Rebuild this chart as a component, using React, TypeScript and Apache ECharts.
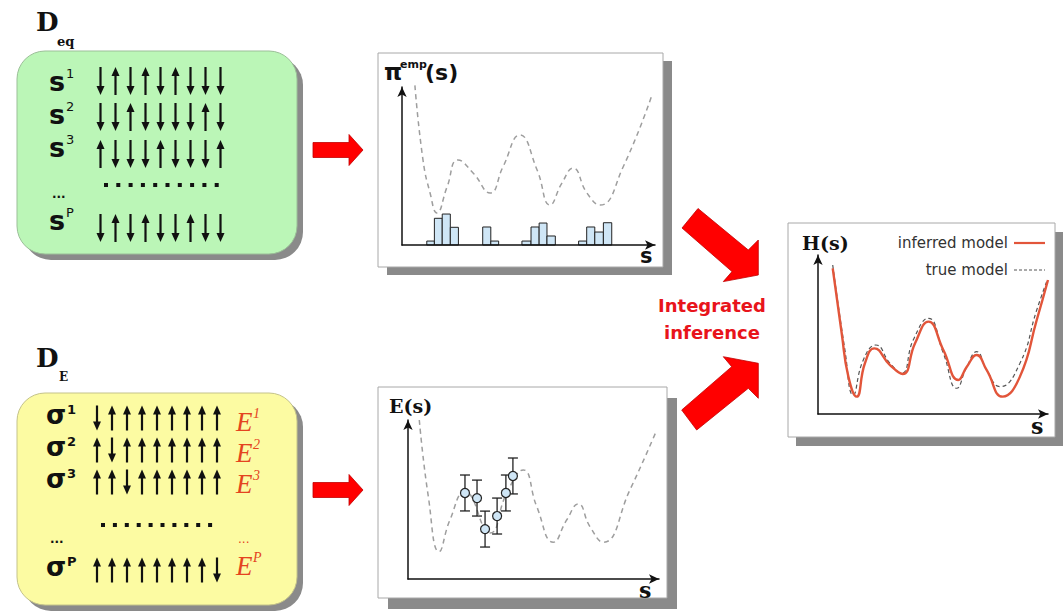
import React, { useEffect, useRef } from 'react';
import * as echarts from 'echarts';

// ---- data ----
const eqRows = ['dudududdd', 'dduddddud', 'udddudddu', 'dududdudd'];
const eqSup = ['1', '2', '3', 'P'];
const eRows = ['duuuuuuuu', 'uduuuuuuu', 'uuduuuuuu', 'uuuuuuuud'];
const eSup = ['1', '2', '3', 'P'];

// pi^emp(s) panel: dashed true curve [s, value]
const piCurve = [[5.1, 101], [8.3, 53.8], [11.1, 32.9], [13.8, 20.3], [17.8, 36.7], [22.1, 53.8], [28.1, 45.6], [34.8, 32.9], [39.9, 49.4], [46.6, 69.6], [53.4, 47.5], [58.5, 25.3], [63.2, 39.2], [67.6, 48.7], [73.1, 32.9], [78.3, 25.3], [87.4, 49.4], [98.8, 94.9]];
// histogram bins [start, end, count]
const piBins = [[9.8, 12.8, 2.5], [12.8, 15.9, 16.9], [15.9, 19.1, 19.6], [19.1, 22.3, 11.2], [31.9, 35.1, 11.4], [35.1, 38.2, 2.5], [47.4, 51.0, 2.5], [51.0, 54.2, 11.4], [54.2, 57.3, 13.9], [57.3, 60.6, 5.7], [69.8, 73.0, 2.5], [73.0, 76.2, 11.4], [76.2, 79.6, 8.2], [79.6, 82.9, 14.1]];

// E(s) panel
const eCurve = [[4.5, 100], [8.1, 51.8], [12.4, 17.2], [16.7, 37.1], [22.7, 54.9], [32.7, 28.9], [39.3, 53.9], [45.9, 68.6], [51.3, 45.5], [57.9, 23.1], [63.2, 37.1], [67.8, 47.2], [72.5, 32.9], [77.8, 23.1], [88.4, 56.0], [99.1, 93.7]];
const ePoints = [[22.7, 54.1], [27.5, 50.9], [30.7, 31.4], [35.5, 39.6], [39.0, 54.1], [41.8, 64.8]];
const eErr = [11.3, 11.3, 11.3, 11.3, 11.3, 11.3];

// H(s) panel
const hInferred = [[6.4, 91.6], [10.3, 50.8], [13.2, 23.5], [16.8, 10.9], [20.4, 31.9], [24.5, 41.3], [31.3, 30.8], [36.8, 25.2], [42.2, 44.5], [48.0, 58.1], [54.5, 40.3], [61.0, 21.4], [64.7, 29.7], [69.0, 37.1], [73.3, 27.7], [80.3, 10.9], [87.8, 23.5], [95.1, 59.1], [100, 84.3]];
const hTrue = [[6.4, 93.7], [11.7, 40.3], [15.3, 11.9], [19.7, 34.0], [25.2, 43.4], [31.3, 31.9], [36.4, 25.6], [41.4, 46.5], [48.0, 60.2], [54.5, 38.2], [60.3, 16.2], [64.7, 29.7], [69.0, 39.2], [73.3, 27.7], [79.1, 17.2], [87.8, 31.9], [95.1, 65.4], [99.4, 83.2]];
const legendNames = ['inferred model', 'true model'];

const SANS = '"DejaVu Sans", "Liberation Sans", sans-serif';
const SERIF = '"DejaVu Serif", "Liberation Serif", serif';
const TIMES = '"Liberation Serif", "DejaVu Serif", serif';
const RED_LINE = '#e2553a';

function txt(x: number, y: number, text: string, font: string, fill = '#111', align = 'left', z = 5) {
  return {
    type: 'text', x, y, z,
    style: { text, font, fill, textAlign: align, textVerticalAlign: 'middle' },
  };
}

function spin(out: any[], x: number, yc: number, up: boolean, len: number) {
  const half = len / 2;
  const hh = 9, hw = 8;
  if (up) {
    const tip = yc - half;
    out.push({ type: 'line', z: 5, shape: { x1: x, y1: yc + half, x2: x, y2: tip + hh - 1 }, style: { stroke: '#111', lineWidth: 2.2 } });
    out.push({ type: 'polygon', z: 5, shape: { points: [[x, tip], [x - hw / 2, tip + hh], [x + hw / 2, tip + hh]] }, style: { fill: '#111' } });
  } else {
    const tip = yc + half;
    out.push({ type: 'line', z: 5, shape: { x1: x, y1: yc - half, x2: x, y2: tip - hh + 1 }, style: { stroke: '#111', lineWidth: 2.2 } });
    out.push({ type: 'polygon', z: 5, shape: { points: [[x, tip], [x - hw / 2, tip - hh], [x + hw / 2, tip - hh]] }, style: { fill: '#111' } });
  }
}

function buildGraphics() {
  const g: any[] = [];
  // boxes
  g.push({ type: 'rect', z: 1, shape: { x: 23, y: 57, width: 280, height: 203, r: 28 }, style: { fill: '#8a8a8a' } });
  g.push({ type: 'rect', z: 1, shape: { x: 17, y: 51, width: 280, height: 203, r: 28 }, style: { fill: '#bbf6b7', stroke: '#9bbf98', lineWidth: 1 } });
  g.push({ type: 'rect', z: 1, shape: { x: 23, y: 399, width: 280, height: 212, r: 28 }, style: { fill: '#8a8a8a' } });
  g.push({ type: 'rect', z: 1, shape: { x: 17, y: 393, width: 280, height: 212, r: 28 }, style: { fill: '#fcfba2', stroke: '#c4c38a', lineWidth: 1 } });
  // panels
  const panels = [[378, 53, 285, 214, 9, 8], [378, 387, 289, 211, 10, 11], [788, 223, 267, 214, 8, 9]];
  panels.forEach(([x, y, w, h, dx, dy]) => {
    g.push({ type: 'rect', z: 1, shape: { x: x + dx, y: y + dy, width: w, height: h }, style: { fill: '#8a8a8a' } });
    g.push({ type: 'rect', z: 1, shape: { x, y, width: w, height: h }, style: { fill: '#ffffff', stroke: '#a8a8a8', lineWidth: 1 } });
  });

  // D_eq
  g.push(txt(36, 22, 'D', 'bold 26px ' + SERIF));
  g.push(txt(57, 41, 'eq', 'bold 13px ' + SERIF));
  // D_E
  g.push(txt(36, 358, 'D', 'bold 26px ' + SERIF));
  g.push(txt(59, 377, 'E', 'bold 12px ' + SERIF));

  // green rows
  const gy = [81, 117, 154, 228];
  const gLabelY = [81, 114, 147, 220];
  eqRows.forEach((row, r) => {
    g.push(txt(49, gLabelY[r], 's', 'bold 27px ' + SANS));
    g.push(txt(66, gLabelY[r] - 8, eqSup[r], '13px ' + SANS));
    row.split('').forEach((c, i) => spin(g, 100.5 + i * 15.0, gy[r], c === 'u', 28));
  });
  for (let i = 0; i < 10; i++) g.push({ type: 'rect', z: 5, shape: { x: 104 + i * 12.3, y: 183, width: 4, height: 4 }, style: { fill: '#111' } });
  g.push(txt(52, 194, '...', 'bold 12px ' + SANS));

  // yellow rows
  const yy = [418, 450, 482, 570];
  const yLabelY = [415, 447, 479, 567];
  eRows.forEach((row, r) => {
    g.push(txt(46, yLabelY[r], 'σ', 'bold 26px ' + SANS));
    g.push(txt(67, yLabelY[r] - 6, eSup[r], 'bold 13px ' + SANS));
    row.split('').forEach((c, i) => spin(g, 97 + i * 15.0, yy[r], c === 'u', 25));
    const ey = [422, 453, 484, 566][r];
    g.push(txt(236, ey, 'E', 'italic 27px ' + TIMES, '#e4441f'));
    g.push(txt(253, ey - 9, eSup[r], 'italic 14px ' + TIMES, '#e4441f'));
  });
  for (let i = 0; i < 10; i++) g.push({ type: 'rect', z: 5, shape: { x: 101 + i * 11.9, y: 523, width: 4, height: 4 }, style: { fill: '#111' } });
  g.push(txt(50, 539, '...', 'bold 12px ' + SANS));
  g.push(txt(238, 539, '...', '12px ' + SANS, '#e4441f'));

  // small red arrows
  [150, 490].forEach((cy) => {
    g.push({ type: 'polygon', z: 5, shape: { points: [[313, cy - 7.5], [349, cy - 7.5], [349, cy - 15.5], [363, cy], [349, cy + 15.5], [349, cy + 7.5], [313, cy + 7.5]] }, style: { fill: '#ff0000', stroke: '#c00000', lineWidth: 0.8 } });
  });
  // big red arrows
  g.push({ type: 'polygon', z: 5, shape: { points: [[682, 228], [732, 271.6], [723.3, 281.6], [758.3, 275], [758.3, 240], [748.3, 250], [698, 208.5]] }, style: { fill: '#ff0000', stroke: '#c00000', lineWidth: 0.8 } });
  g.push({ type: 'polygon', z: 5, shape: { points: [[681.7, 410], [731.7, 366.7], [723.3, 356.7], [758.3, 363.3], [758.3, 398.3], [748.3, 388.3], [696.7, 430]] }, style: { fill: '#ff0000', stroke: '#c00000', lineWidth: 0.8 } });
  g.push(txt(712, 305, 'Integrated', 'bold 18px ' + SANS, '#e8141b', 'center'));
  g.push(txt(712, 332, 'inference', 'bold 18px ' + SANS, '#e8141b', 'center'));

  // panel titles
  g.push(txt(384, 72, 'π', 'bold 23px ' + SANS));
  g.push(txt(400, 64, 'emp', 'bold 11px ' + SANS));
  g.push(txt(425, 72, '(s)', 'bold 22px ' + SANS));
  g.push(txt(640, 256, 's', 'bold 21px ' + SANS));

  g.push(txt(389, 406, 'E(s)', 'bold 19px ' + SERIF));
  g.push(txt(639, 590, 's', 'bold 22px ' + SERIF));

  g.push(txt(802, 243, 'H(s)', 'bold 19px ' + SERIF));
  g.push(txt(1031, 426, 's', 'bold 22px ' + SERIF));

  // legend
  g.push(txt(1008, 243, legendNames[0], '15px ' + SANS, '#333', 'right'));
  g.push({ type: 'line', z: 5, shape: { x1: 1014, y1: 243, x2: 1045, y2: 243 }, style: { stroke: RED_LINE, lineWidth: 2.2 } });
  g.push(txt(1008, 270, legendNames[1], '15px ' + SANS, '#333', 'right'));
  g.push({ type: 'line', z: 5, shape: { x1: 1014, y1: 270, x2: 1045, y2: 270 }, style: { stroke: '#555', lineWidth: 1, lineDash: [3, 2] } });
  return g;
}

function axisPair(gi: number) {
  const line = { show: true, onZero: false, symbol: ['none', 'arrow'], symbolSize: [7, 10], lineStyle: { color: '#111', width: 1.5 } };
  const base = { type: 'value', gridIndex: gi, min: 0, max: 100, z: 10, axisLine: line, axisTick: { show: false }, axisLabel: { show: false }, splitLine: { show: false } };
  return { x: { ...base, position: 'bottom' }, y: { ...base, position: 'left' } };
}

export default function App() {
  const ref = useRef<HTMLDivElement>(null);
  useEffect(() => {
    const chart = echarts.init(ref.current as HTMLDivElement, undefined, { renderer: 'svg' });
    const a0 = axisPair(0), a1 = axisPair(1), a2 = axisPair(2);
    const dashed = { color: '#9e9e9e', width: 1.5, type: [5, 4] as any };
    const option: any = {
      animation: false,
      backgroundColor: '#ffffff',
      grid: [
        { left: 402, top: 87, width: 253, height: 158, z: 10 },
        { left: 408, top: 420, width: 251, height: 159, z: 10 },
        { left: 818, top: 255, width: 230, height: 159, z: 10 },
      ],
      xAxis: [a0.x, a1.x, a2.x],
      yAxis: [a0.y, a1.y, a2.y],
      graphic: { elements: buildGraphics() },
      series: [
        { type: 'line', xAxisIndex: 0, yAxisIndex: 0, data: piCurve, smooth: 0.5, symbol: 'none', clip: false, lineStyle: dashed, z: 3 },
        {
          type: 'custom', xAxisIndex: 0, yAxisIndex: 0, data: piBins, z: 4,
          encode: { x: [0, 1], y: 2 },
          renderItem: (params: any, api: any) => {
            const p0 = api.coord([api.value(0), api.value(2)]);
            const p1 = api.coord([api.value(1), 0]);
            return { type: 'rect', shape: { x: p0[0], y: p0[1], width: p1[0] - p0[0], height: p1[1] - p0[1] }, style: { fill: '#cfe6f6', stroke: '#222', lineWidth: 1 } };
          },
        },
        { type: 'line', xAxisIndex: 1, yAxisIndex: 1, data: eCurve, smooth: 0.5, symbol: 'none', clip: false, lineStyle: dashed, z: 3 },
        {
          type: 'custom', xAxisIndex: 1, yAxisIndex: 1, z: 4,
          data: ePoints.map((p, i) => [p[0], p[1], eErr[i]]),
          encode: { x: 0, y: 1 },
          renderItem: (params: any, api: any) => {
            const s = api.value(0), v = api.value(1), e = api.value(2);
            const t = api.coord([s, v + e]);
            const b = api.coord([s, v - e]);
            const st = { stroke: '#222', lineWidth: 1.3 };
            return {
              type: 'group', children: [
                { type: 'line', shape: { x1: t[0], y1: t[1], x2: b[0], y2: b[1] }, style: st },
                { type: 'line', shape: { x1: t[0] - 5, y1: t[1], x2: t[0] + 5, y2: t[1] }, style: st },
                { type: 'line', shape: { x1: b[0] - 5, y1: b[1], x2: b[0] + 5, y2: b[1] }, style: st },
              ],
            };
          },
        },
        { type: 'scatter', xAxisIndex: 1, yAxisIndex: 1, data: ePoints, symbolSize: 9, z: 5, itemStyle: { color: '#cfe6f6', borderColor: '#222', borderWidth: 1.2, opacity: 1 } },
        { name: legendNames[1], type: 'line', xAxisIndex: 2, yAxisIndex: 2, data: hTrue, smooth: 0.5, symbol: 'none', clip: false, lineStyle: { color: '#555', width: 1.2, type: [4, 3] }, z: 3 },
        { name: legendNames[0], type: 'line', xAxisIndex: 2, yAxisIndex: 2, data: hInferred, smooth: 0.5, symbol: 'none', clip: false, lineStyle: { color: RED_LINE, width: 2.4 }, z: 4 },
      ],
    };
    chart.setOption(option);
    return () => chart.dispose();
  }, []);
  return <div ref={ref} style={{ position: 'absolute', left: 0, top: 0, width: 1064, height: 615 }} />;
}
